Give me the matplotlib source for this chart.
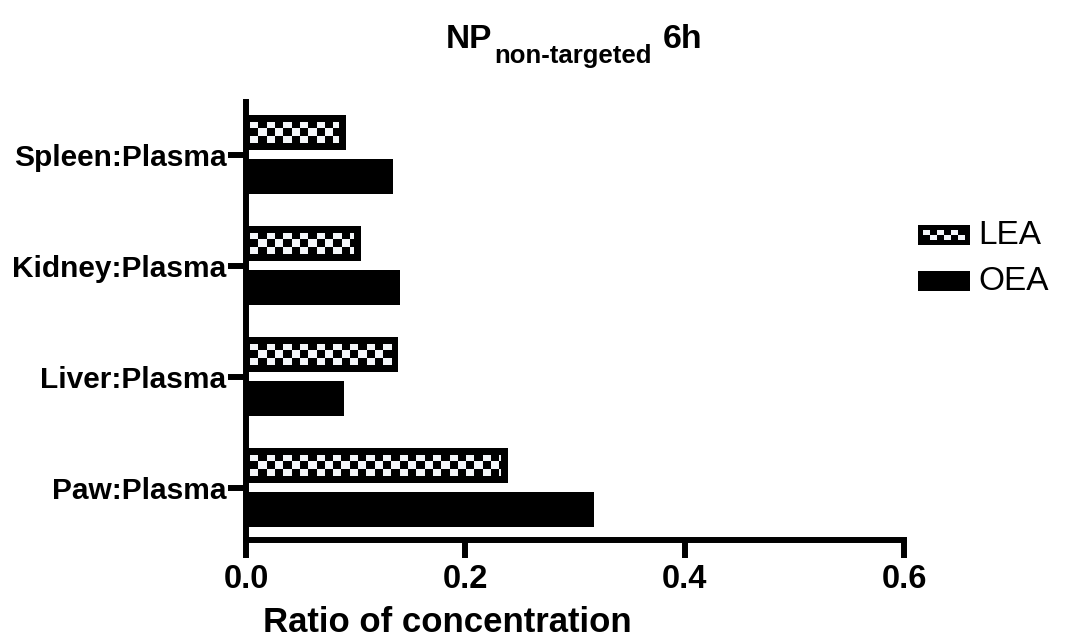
import numpy as np
import matplotlib
matplotlib.use('Agg')
import matplotlib.pyplot as plt
from matplotlib.patches import Rectangle
from matplotlib.colors import ListedColormap

# ---- data ----
categories = ['Paw:Plasma', 'Liver:Plasma', 'Kidney:Plasma', 'Spleen:Plasma']
lea_values = [0.2385, 0.139, 0.1045, 0.091]
oea_values = [0.317, 0.0896, 0.140, 0.134]
series_labels = ['LEA', 'OEA']
xticks = [0.0, 0.2, 0.4, 0.6]
xtick_labels = ['0.0', '0.2', '0.4', '0.6']
title_main = 'NP'
title_sub = 'non-targeted'
title_tail = '6h'
xlabel = 'Ratio of concentration'

plt.rcParams['font.family'] = ['Liberation Sans', 'DejaVu Sans']

W, H = 1066, 641
fig = plt.figure(figsize=(W / 100, H / 100), dpi=100)

ax_l, ax_r, ax_t, ax_b = 246, 904, 101.7, 540
ax = fig.add_axes([ax_l / W, 1 - ax_b / H, (ax_r - ax_l) / W, (ax_b - ax_t) / H])
xlim = (0, 0.6)
ylim = (-0.468, 3.475)

y = np.arange(len(categories))
bh = 0.315
off = 0.198
ax.barh(y + off, lea_values, height=bh, color='black', zorder=2)
ax.barh(y - off, oea_values, height=bh, color='black', zorder=2)

# checker pattern inside LEA bars
dx = (xlim[1] - xlim[0]) / (ax_r - ax_l)
dy = (ylim[1] - ylim[0]) / (ax_b - ax_t)
cell_w, cell_h = 8.3, 7.0
cmap = ListedColormap(['black', '#f4f6f9'])
for yi, v in zip(y, lea_values):
    x0 = 4 * dx
    x1 = v - 7 * dx
    yb = yi + off - bh / 2 + 7 * dy
    yt = yi + off + bh / 2 - 7 * dy
    ncol = int(np.ceil(((x1 - x0) / dx) / cell_w))
    nrow = max(1, int(round(((yt - yb) / dy) / cell_h)))
    arr = (np.add.outer(np.arange(nrow), np.arange(ncol)) % 2 == 0).astype(float)
    im = ax.imshow(arr, cmap=cmap, vmin=0, vmax=1,
                   extent=(x0, x0 + ncol * cell_w * dx, yb, yt),
                   origin='upper', interpolation='nearest', aspect='auto', zorder=3)
    im.set_clip_path(Rectangle((x0, yb), x1 - x0, yt - yb, transform=ax.transData))

ax.set_xlim(*xlim)
ax.set_ylim(*ylim)

for s in ['top', 'right']:
    ax.spines[s].set_visible(False)
for s in ['left', 'bottom']:
    ax.spines[s].set_linewidth(4.3)
    ax.spines[s].set_color('black')

ax.set_xticks(xticks)
ax.set_xticklabels(xtick_labels, fontsize=23.5, fontweight='bold')
ax.set_yticks(y)
ax.set_yticklabels(categories, fontsize=21.5, fontweight='bold')
ax.tick_params(axis='both', width=4.3, length=13, direction='out', color='black')
ax.tick_params(axis='y', pad=1)
ax.tick_params(axis='x', pad=4)

fig.text(447 / W, 1 - 622 / H, xlabel, fontsize=25, fontweight='bold',
         ha='center', va='center')

# title
t1 = fig.text(446 / W, 1 - 48 / H, title_main, fontsize=24, fontweight='bold',
              ha='left', va='baseline')
t2 = ax.annotate(title_sub, xy=(1, 0), xycoords=t1, xytext=(1, -9),
                 textcoords='offset points', ha='left', va='bottom',
                 fontsize=18.5, fontweight='bold', annotation_clip=False)
t3 = ax.annotate(title_tail, xy=(1, 0), xycoords=(t2, t1), xytext=(8, 0),
                 textcoords='offset points', ha='left', va='bottom',
                 fontsize=24.5, fontweight='bold', annotation_clip=False)

# legend (manual)
def fig_rect(x, y0, w, h, **kw):
    r = Rectangle((x / W, 1 - (y0 + h) / H), w / W, h / H, transform=fig.transFigure, **kw)
    fig.add_artist(r)
    return r

leg_x, leg_w, leg_h = 918, 52, 20
leg_rows = [225, 271]
# LEA patch
fig_rect(leg_x, leg_rows[0], leg_w, leg_h, facecolor='black', edgecolor='none')
pad = 5
cw = 7.0
ch = (leg_h - 2 * pad) / 2
ncol = int((leg_w - 2 * pad) // cw)
for r in range(2):
    for c in range(ncol):
        if (r + c) % 2 == 0:
            fig_rect(leg_x + pad + c * cw, leg_rows[0] + pad + r * ch, cw, ch,
                     facecolor='#f4f6f9', edgecolor='none')
# OEA patch
fig_rect(leg_x, leg_rows[1], leg_w, leg_h, facecolor='black', edgecolor='none')
for lab, yr in zip(series_labels, leg_rows):
    fig.text(978 / W, 1 - (yr + leg_h / 2) / H, lab, fontsize=24,
             ha='left', va='center')

fig.savefig('out.png', dpi=100)
